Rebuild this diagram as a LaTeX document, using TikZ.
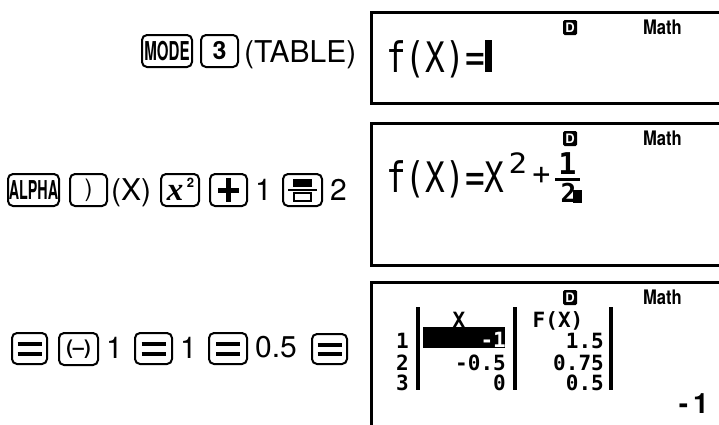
\documentclass[tikz,border=0pt]{standalone}
\usepackage{fontspec}
\setmainfont{TeX Gyre Heros}
\newfontfamily\lcd{DejaVu Sans Mono}
\newfontfamily\serifx{Liberation Serif}
\newcommand{\fsz}[1]{\fontsize{#1}{#1}\selectfont}
\begin{document}
\begin{tikzpicture}[x=1pt,y=-1pt,
  key/.style={draw, line width=2pt, rounded corners=5pt, inner sep=0pt, minimum height=32pt},
  keytxt/.style={font=\fsz{30}, anchor=base west, inner sep=0pt},
  scr/.style={line width=3pt, line join=miter},
  dind/.style={fill=black, text=white, rounded corners=1.5pt, minimum width=14pt, minimum height=15pt, inner sep=0pt, font=\bfseries\fsz{13}},
  mathind/.style={inner sep=0pt, font=\bfseries\fsz{20}},
  lcdbig/.style={inner sep=0pt, anchor=base west, font=\lcd\fsz{42}},
  tab/.style={inner sep=0pt, anchor=base east, font=\lcd\bfseries\fsz{21}},
  vbar/.style={line width=4pt},
  eqbar/.style={line width=4pt}
]
\useasboundingbox (0,0) rectangle (719,424);

% ---------- row 1 keys ----------
\node[key, minimum width=50pt] (mode) at (167,51) {\scalebox{0.58}[1]{\bfseries\fsz{26}MODE}};
\node[key, minimum width=37pt] (three) at (219.5,51) {\bfseries\fsz{25}3};
\node[keytxt] (table) at (244,62) {(TABLE)};

% ---------- row 2 keys ----------
\node[key, minimum width=51pt] (alpha) at (33.5,190) {\scalebox{0.55}[1]{\bfseries\fsz{26}ALPHA}};
\node[key, minimum width=37pt] (rpar) at (88.5,190) {\fsz{24})};
\node[keytxt] (xpar) at (111,200) {(X)};
\node[key, minimum width=38pt] (xsq) at (180,190) {};
\node[inner sep=0pt] (xsqx) at (175,193) {\serifx\bfseries\itshape\fsz{33}x};
\node[inner sep=0pt] (xsqt) at (190.5,183) {\bfseries\fsz{13}2};
\node[key, minimum width=37pt] (plus) at (228.5,190) {};
\draw[line width=5pt] (218,190) -- (239,190);
\draw[line width=5pt] (228.5,178) -- (228.5,202);
\node[keytxt] (one) at (255,200) {1};
\node[key, minimum width=39pt] (frac) at (302.5,190) {};
\fill (293,179) rectangle (312,187);
\draw[line width=2pt] (288,190) -- (317,190);
\draw[line width=1.5pt] (294,193) rectangle (311,201);
\node[keytxt] (two) at (330,200) {2};

% ---------- row 3 keys ----------
\node[key, minimum width=35pt, minimum height=31pt] (eqa) at (29.5,348.5) {};
\node[key, minimum width=39pt] (neg) at (78.5,349) {\bfseries\fsz{20}(\textendash)};
\node[keytxt] (onea) at (106,358) {1};
\node[key, minimum width=37pt, minimum height=31pt] (eqb) at (153.5,348.5) {};
\node[keytxt] (oneb) at (180,358) {1};
\node[key, minimum width=38pt, minimum height=31pt] (eqc) at (228,348.5) {};
\node[keytxt] (half) at (255,357) {0.5};
\node[key, minimum width=35pt, minimum height=30pt] (eqd) at (329.5,349) {};
\foreach \c in {eqa,eqb,eqc,eqd}{
  \draw[eqbar] ([xshift=-12pt,yshift=4.5pt]\c.center) -- ([xshift=12pt,yshift=4.5pt]\c.center);
  \draw[eqbar] ([xshift=-12pt,yshift=-5pt]\c.center) -- ([xshift=12pt,yshift=-5pt]\c.center);
}

% ---------- screen 1 ----------
\draw[scr] (722,12) -- (371,12) -- (371,103) -- (722,103);
\node[dind] (d1) at (570,27.5) {D};
\node[mathind] (m1) at (662.5,27.5) {\scalebox{0.83}[1]{Math}};
\node[lcdbig] (f1) at (386,72) {\scalebox{0.78}[1]{f(X)=}};
\fill (485,40) rectangle (492,72);

% ---------- screen 2 ----------
\draw[scr] (722,123) -- (371,123) -- (371,265) -- (722,265);
\node[dind] (d2) at (570,138.5) {D};
\node[mathind] (m2) at (662.5,138.5) {\scalebox{0.83}[1]{Math}};
\node[lcdbig] (f2) at (386,192) {\scalebox{0.78}[1]{f(X)=X}};
\node[inner sep=0pt, font=\lcd\fsz{28}] (sq2) at (518,163) {\scalebox{1.1}[1]{2}};
\node[inner sep=0pt, font=\lcd\fsz{30}] (pl2) at (541.5,176) {+};
\node[inner sep=0pt, font=\lcd\bfseries\fsz{30}] (num) at (567.5,164) {1};
\draw[line width=3pt] (555,179) -- (580,179);
\node[inner sep=0pt, font=\lcd\bfseries\fsz{26}] (den) at (568.5,192.5) {2};
\fill (573,190) rectangle (582,203);

% ---------- screen 3 ----------
\draw[scr] (722,282) -- (371,282) -- (371,430);
\node[dind] (d3) at (570,297.5) {D};
\node[mathind] (m3) at (662.5,297.5) {\scalebox{0.83}[1]{Math}};
\draw[vbar] (417.5,307) -- (417.5,390);
\draw[vbar] (515,307) -- (515,390);
\draw[vbar] (611,307) -- (611,390);
\node[tab] (r1) at (409,348) {1};
\node[tab] (r2) at (409,370) {2};
\node[tab] (r3) at (409,390) {3};
\node[tab, anchor=base] (hx) at (459,327) {X};
\node[tab, anchor=base] (hf) at (558,327) {F(X)};
\fill (423,327) rectangle (505,348);
\node[tab, text=white] (c11) at (506,347) {-1};
\node[tab] (c12) at (506,370) {-0.5};
\node[tab] (c13) at (506,390) {0};
\node[tab] (c21) at (604,348) {1.5};
\node[tab] (c22) at (604,370) {0.75};
\node[tab] (c23) at (604,390) {0.5};
\node[inner sep=0pt, anchor=base east, font=\bfseries\fsz{28}] (res) at (709,413) {-\hspace{5pt}1};
\end{tikzpicture}
\end{document}
